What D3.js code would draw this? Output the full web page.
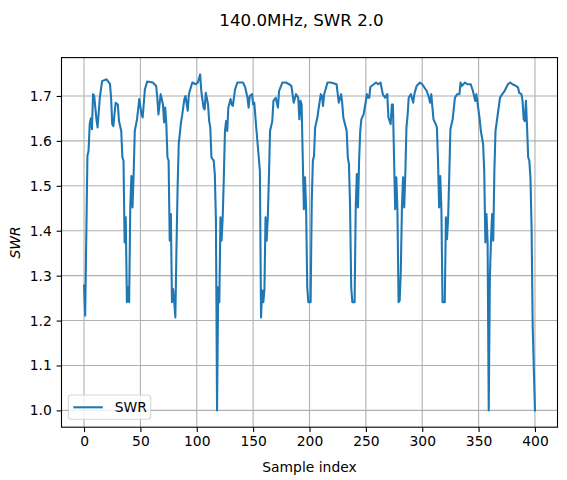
<!DOCTYPE html>
<html>
<head>
<meta charset="utf-8">
<script src="https://cdn.jsdelivr.net/npm/d3@7"></script>
<style>
  body { margin: 0; background: #fff; }
  text { font-family: "DejaVu Sans", sans-serif; fill: #000; }
</style>
</head>
<body>
<script>
// Sample positions and SWR readings
const sampleIndex = [
  0, 1, 3, 4, 5, 6, 7, 8, 9, 11, 12, 14, 16, 20, 23, 24, 25, 26, 28, 30, 31, 33, 34, 35, 36, 37, 38, 39, 40,
  41, 42, 43, 44, 45, 47, 49, 51, 52, 54, 56, 61, 64, 65, 66, 68, 70, 71, 72, 73, 74, 75, 76, 77, 78, 79, 80,
  81, 82, 83, 84, 86, 87, 89, 90, 92, 93, 96, 99, 101, 103, 104, 106, 107, 108, 110, 111, 112, 113, 115, 116,
  117, 118, 119, 120, 121, 122, 123, 124, 125, 126, 127, 128, 130, 131, 132, 134, 136, 141, 143, 145, 146,
  147, 149, 150, 151, 153, 155, 156, 157, 158, 159, 160, 161, 162, 163, 164, 165, 167, 168, 170, 172, 173,
  176, 179, 182, 184, 186, 188, 190, 191, 192, 193, 194, 195, 196, 197, 198, 199, 201, 202, 203, 204, 205,
  207, 208, 210, 211, 212, 213, 216, 219, 224, 226, 228, 229, 230, 233, 234, 235, 236, 237, 238, 240, 241,
  242, 243, 244, 245, 246, 248, 249, 251, 252, 253, 254, 257, 259, 261, 263, 265, 267, 269, 270, 272, 273,
  274, 275, 276, 277, 278, 279, 280, 281, 282, 283, 284, 285, 286, 287, 288, 290, 292, 293, 295, 298, 300,
  304, 306, 307, 308, 310, 312, 313, 314, 315, 316, 317, 318, 320, 321, 322, 323, 324, 325, 327, 329, 331,
  333, 334, 335, 338, 340, 343, 345, 347, 348, 349, 351, 352, 354, 355, 356, 357, 358, 359, 360, 361, 362,
  363, 364, 365, 367, 369, 371, 373, 376, 378, 380, 382, 385, 386, 388, 389, 390, 391, 392, 393, 394, 395,
  396, 397, 398, 400
];
const swrValues = [
  1.278, 1.211, 1.567, 1.578, 1.637, 1.650, 1.626, 1.704, 1.700, 1.648, 1.630, 1.696, 1.733, 1.737, 1.727,
  1.696, 1.637, 1.633, 1.685, 1.681, 1.644, 1.622, 1.563, 1.556, 1.374, 1.430, 1.241, 1.274, 1.241,
  1.452, 1.522, 1.452, 1.526, 1.622, 1.648, 1.693, 1.659, 1.652, 1.715, 1.732, 1.730, 1.722, 1.696, 1.659,
  1.704, 1.681, 1.641, 1.674, 1.637, 1.563, 1.556, 1.378, 1.437, 1.241, 1.270, 1.241,
  1.207, 1.363, 1.496, 1.593, 1.641, 1.656, 1.693, 1.700, 1.667, 1.704, 1.730, 1.726, 1.730, 1.748, 1.711,
  1.674, 1.670, 1.707, 1.681, 1.644, 1.630, 1.563, 1.556, 1.526,
  1.422, 1.000, 1.274, 1.241, 1.430, 1.378, 1.430, 1.519, 1.622, 1.644, 1.622, 1.674, 1.693, 1.681, 1.678,
  1.715, 1.730, 1.730, 1.719, 1.696, 1.674,
  1.700, 1.704, 1.681, 1.685, 1.622, 1.563, 1.533, 1.207, 1.267, 1.241, 1.267, 1.430, 1.378, 1.430, 1.519,
  1.622, 1.644, 1.689, 1.696, 1.674, 1.711,
  1.730, 1.730, 1.726, 1.722, 1.685, 1.704, 1.696, 1.648, 1.689, 1.681, 1.563, 1.448, 1.519, 1.448, 1.274,
  1.241, 1.241, 1.467, 1.556, 1.567, 1.630,
  1.652, 1.670, 1.704, 1.700, 1.678, 1.704, 1.730, 1.730, 1.726, 1.685, 1.704, 1.685, 1.652, 1.622, 1.563,
  1.548, 1.452, 1.274, 1.241, 1.241, 1.452,
  1.526, 1.452, 1.556, 1.622, 1.648, 1.659, 1.674, 1.704, 1.696, 1.696, 1.720, 1.726, 1.730, 1.726, 1.730,
  1.704, 1.696, 1.704, 1.652, 1.637, 1.681,
  1.681, 1.563, 1.448, 1.519, 1.448, 1.241, 1.244, 1.311, 1.452, 1.519, 1.452, 1.526, 1.630, 1.656, 1.696,
  1.704, 1.685, 1.704, 1.722, 1.730, 1.726,
  1.711, 1.696, 1.685, 1.704, 1.648, 1.637, 1.630, 1.556, 1.452, 1.522, 1.448, 1.241, 1.241, 1.430, 1.381,
  1.430, 1.526, 1.626, 1.648, 1.696, 1.704,
  1.704, 1.730, 1.722, 1.730, 1.726, 1.726, 1.711, 1.689, 1.704, 1.685, 1.648, 1.622, 1.593, 1.533, 1.374,
  1.437, 1.374, 1.000, 1.296, 1.378, 1.437,
  1.378, 1.533, 1.622, 1.659, 1.696, 1.704, 1.711, 1.726, 1.730, 1.726, 1.724, 1.719, 1.707, 1.704, 1.689,
  1.648, 1.644, 1.689, 1.630, 1.563, 1.556,
  1.519, 1.407, 1.185, 1.000
];
const xTicks = [0, 50, 100, 150, 200, 250, 300, 350, 400];
const yTicks = [1.0, 1.1, 1.2, 1.3, 1.4, 1.5, 1.6, 1.7];
const chartTitle = "140.0MHz, SWR 2.0";
const seriesName = "SWR";

const data = sampleIndex.map((s, i) => ({ idx: s, swr: swrValues[i] }));

// Canvas and plot box
const width = 567, height = 480;
const margin = { top: 57.6, right: 9.5, bottom: 52.8, left: 61.5 };
const plotW = width - margin.left - margin.right;
const plotH = height - margin.top - margin.bottom;

// Matplotlib style 5% padding on both axes
const xExt = d3.extent(data, d => d.idx);
const yExt = d3.extent(data, d => d.swr);
const xPad = (xExt[1] - xExt[0]) * 0.05;
const yPad = (yExt[1] - yExt[0]) * 0.05;

const x = d3.scaleLinear()
  .domain([xExt[0] - xPad, xExt[1] + xPad])
  .range([0, plotW]);

const y = d3.scaleLinear()
  .domain([yExt[0] - yPad, yExt[1] + yPad])
  .range([plotH, 0]);

const svg = d3.select("body").append("svg")
  .attr("width", width)
  .attr("height", height);

// Title
svg.append("text")
  .attr("x", 301.5)
  .attr("y", 26)
  .attr("text-anchor", "middle")
  .style("font-size", "16.67px")
  .text(chartTitle);

const g = svg.append("g")
  .attr("transform", `translate(${margin.left},${margin.top})`);

// Grid lines
g.append("g")
  .selectAll("line")
  .data(xTicks)
  .join("line")
  .attr("x1", d => x(d)).attr("x2", d => x(d))
  .attr("y1", 0).attr("y2", plotH)
  .attr("stroke", "#b0b0b0")
  .attr("stroke-width", 1.1);

g.append("g")
  .selectAll("line")
  .data(yTicks)
  .join("line")
  .attr("x1", 0).attr("x2", plotW)
  .attr("y1", d => y(d)).attr("y2", d => y(d))
  .attr("stroke", "#b0b0b0")
  .attr("stroke-width", 1.1);

// The SWR line
const line = d3.line()
  .x(d => x(d.idx))
  .y(d => y(d.swr));

g.append("path")
  .datum(data)
  .attr("fill", "none")
  .attr("stroke", "#1f77b4")
  .attr("stroke-width", 2.08)
  .attr("stroke-linejoin", "round")
  .attr("stroke-linecap", "square")
  .attr("d", line);

// Axes
const xAxis = d3.axisBottom(x).tickValues(xTicks).tickSize(4.86).tickPadding(4.5).tickFormat(d3.format("d"));
const yAxis = d3.axisLeft(y).tickValues(yTicks).tickSize(4.86).tickPadding(4.9).tickFormat(d3.format(".1f"));

const gx = g.append("g")
  .attr("transform", `translate(0,${plotH})`)
  .call(xAxis);
const gy = g.append("g").call(yAxis);

[gx, gy].forEach(a => {
  a.select(".domain").remove();
  a.selectAll(".tick line").attr("stroke", "#000").attr("stroke-width", 1.1);
  a.selectAll(".tick text")
    .style("font-size", "13.89px")
    .style("font-family", "'DejaVu Sans', sans-serif")
    .attr("fill", "#000");
});

// Frame
g.append("rect")
  .attr("width", plotW)
  .attr("height", plotH)
  .attr("fill", "none")
  .attr("stroke", "#000")
  .attr("stroke-width", 1.1);

// Axis labels
svg.append("text")
  .attr("x", margin.left + plotW / 2)
  .attr("y", 472)
  .attr("text-anchor", "middle")
  .style("font-size", "13.89px")
  .text("Sample index");

svg.append("text")
  .attr("transform", `translate(20,${margin.top + plotH / 2}) rotate(-90)`)
  .attr("text-anchor", "middle")
  .style("font-size", "13.89px")
  .style("font-style", "italic")
  .text(seriesName);

// Legend
const legend = g.append("g")
  .attr("transform", `translate(${68.3 - margin.left},${395 - margin.top})`);

legend.append("rect")
  .attr("width", 82.4)
  .attr("height", 24.3)
  .attr("rx", 2.8)
  .attr("fill", "rgba(255,255,255,0.8)")
  .attr("stroke", "rgba(204,204,204,0.8)")
  .attr("stroke-width", 1.1);

legend.append("line")
  .attr("x1", 5).attr("x2", 34.5)
  .attr("y1", 12.3).attr("y2", 12.3)
  .attr("stroke", "#1f77b4")
  .attr("stroke-width", 2.08);

legend.append("text")
  .attr("x", 46.5)
  .attr("y", 17)
  .style("font-size", "13.89px")
  .text(seriesName);
</script>
</body>
</html>
